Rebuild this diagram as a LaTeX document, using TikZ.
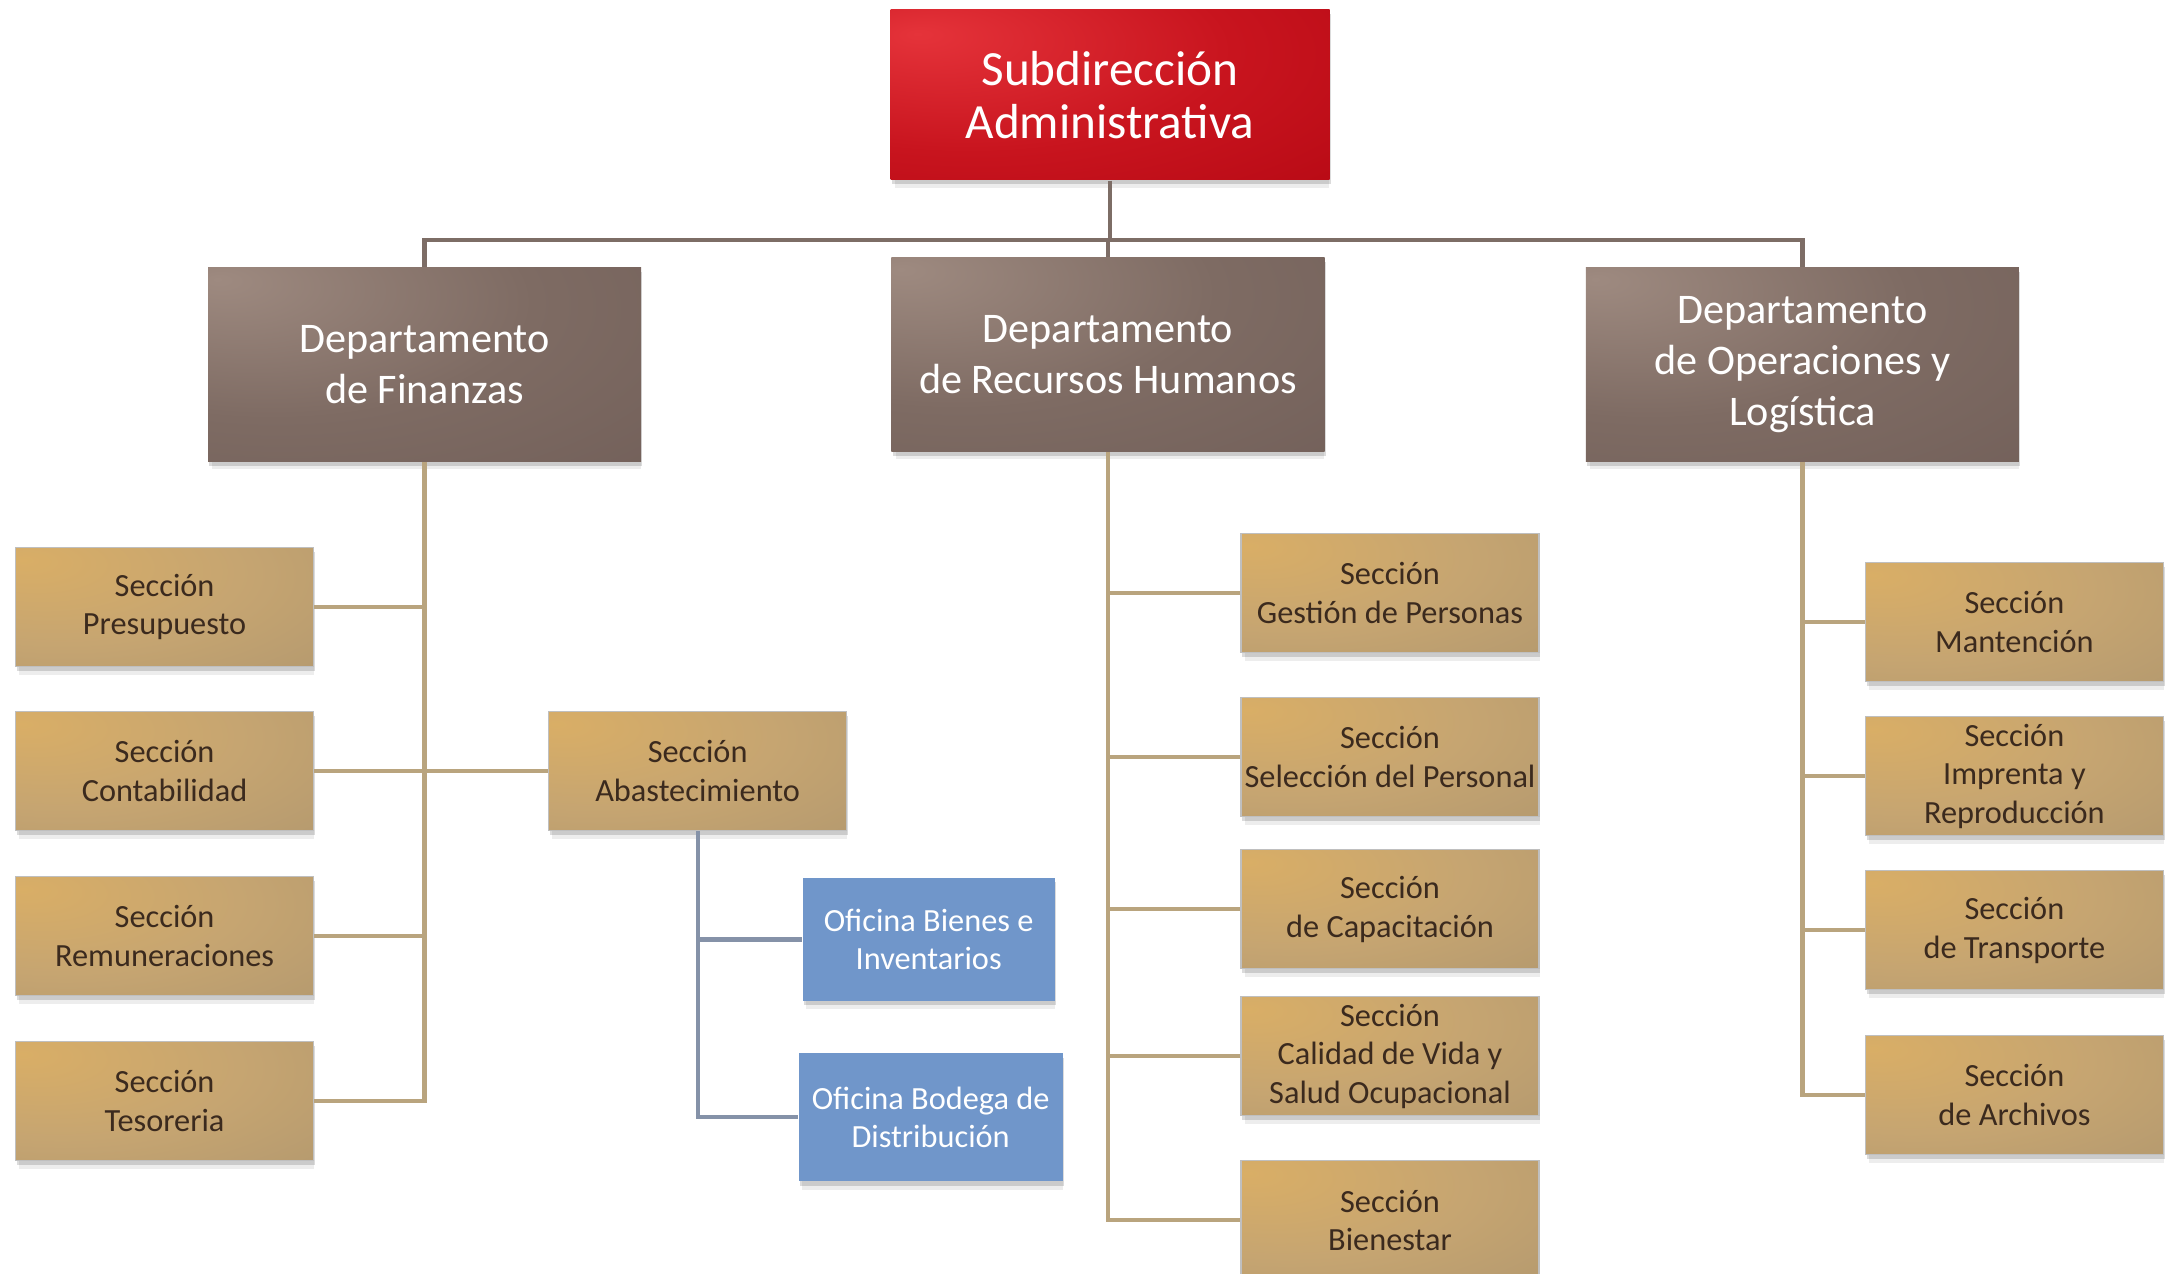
\documentclass[tikz,border=0pt]{standalone}
\usepackage{fontspec}
\setmainfont{Carlito}
\usepackage{tikz}
\usetikzlibrary{positioning,shadows}
\definecolor{rojoclaro}{HTML}{E5333A}
\definecolor{rojomedio}{HTML}{C8141E}
\definecolor{rojooscuro}{HTML}{A8000C}
\definecolor{cafeclaro}{HTML}{9E8A80}
\definecolor{cafemedio}{HTML}{7E6B63}
\definecolor{cafeoscuro}{HTML}{6A5853}
\definecolor{tanclaro}{HTML}{D9AE66}
\definecolor{tanmedio}{HTML}{C6A571}
\definecolor{tanoscuro}{HTML}{A6906D}
\definecolor{azulofi}{HTML}{7096CA}
\definecolor{textotan}{HTML}{3B2A1E}
\definecolor{lineatronco}{HTML}{7D6D66}
\definecolor{lineatan}{HTML}{B9A47E}
\definecolor{lineaazul}{HTML}{8592A8}
\pgfdeclareradialshading{brillorojo}{\pgfpoint{-22bp}{18bp}}{color(0bp)=(rojoclaro); color(30bp)=(rojomedio); color(75bp)=(rojooscuro); color(110bp)=(rojooscuro)}
\pgfdeclareradialshading{brillocafe}{\pgfpoint{-24bp}{22bp}}{color(0bp)=(cafeclaro); color(30bp)=(cafemedio); color(75bp)=(cafeoscuro); color(110bp)=(cafeoscuro)}
\pgfdeclareradialshading{brillotan}{\pgfpoint{-24bp}{20bp}}{color(0bp)=(tanclaro); color(30bp)=(tanmedio); color(75bp)=(tanoscuro); color(110bp)=(tanoscuro)}
\tikzstyle{sombra} = [general shadow={shadow xshift=0.4pt, shadow yshift=-1.2pt, fill=black, opacity=0.14}, general shadow={shadow xshift=0.6pt, shadow yshift=-2.6pt, shadow scale=0.99, fill=black, opacity=0.07}]
\tikzstyle{jefatura} = [rectangle, sombra, shading=brillorojo, text=white, align=center, minimum width=4.39cm, minimum height=1.70cm, font=\fontsize{14}{15}\selectfont]
\tikzstyle{departamento} = [rectangle, sombra, shading=brillocafe, text=white, align=center, minimum width=4.33cm, minimum height=1.94cm, font=\fontsize{12}{14.5}\selectfont]
\tikzstyle{seccion} = [rectangle, sombra, shading=brillotan, draw=black!25, line width=0.3pt, text=textotan, align=center, inner xsep=1pt, inner ysep=0.5pt, minimum width=2.98cm, minimum height=1.19cm, font=\fontsize{9.2}{11}\selectfont]
\tikzstyle{oficina} = [rectangle, sombra, fill=azulofi, text=white, align=center, minimum width=2.52cm, minimum height=1.23cm, font=\fontsize{9.2}{11}\selectfont]
\tikzstyle{tronco} = [line width=1.2pt, draw=lineatronco]
\tikzstyle{rama} = [line width=1.2pt, draw=lineatan]
\tikzstyle{ramaazul} = [line width=1.2pt, draw=lineaazul]
\begin{document}
\begin{tikzpicture}
        \useasboundingbox[fill=white] (-11.10,0.95) rectangle (10.58,-11.79);
        \node (sub) [jefatura] {Subdirección\\Administrativa};
        \node (rrhh) [departamento, below=0.76cm of sub, xshift=-0.02cm] {Departamento\\de Recursos Humanos};
        \node (fin) [departamento, left=2.49cm of rrhh, yshift=-0.1cm] {Departamento\\de Finanzas};
        \node (ops) [departamento, right=2.60cm of rrhh, yshift=-0.1cm] {Departamento\\de Operaciones y\\Logística};
        % Finanzas
        \node (pres) [seccion, below=0.85cm of fin, xshift=-2.60cm] {Sección\\Presupuesto};
        \node (cont) [seccion, below=0.44cm of pres] {Sección\\Contabilidad};
        \node (remu) [seccion, below=0.45cm of cont] {Sección\\Remuneraciones};
        \node (teso) [seccion, below=0.45cm of remu] {Sección\\Tesoreria};
        \node (abas) [seccion, right=2.34cm of cont] {Sección\\Abastecimiento};
        \node (bien) [oficina, below=0.46cm of abas, xshift=2.31cm] {Oficina Bienes e\\Inventarios};
        \node (bode) [oficina, below=0.51cm of bien, xshift=0.02cm, minimum width=2.64cm, minimum height=1.28cm] {Oficina Bodega de\\Distribución};
        % Recursos Humanos
        \node (gest) [seccion, below=0.81cm of rrhh, xshift=2.82cm] {Sección\\Gestión de Personas};
        \node (sele) [seccion, below=0.44cm of gest] {Sección\\Selección del Personal};
        \node (capa) [seccion, below=0.32cm of sele] {Sección\\de Capacitación};
        \node (cali) [seccion, below=0.27cm of capa] {Sección\\Calidad de Vida y\\Salud Ocupacional};
        \node (bien2) [seccion, below=0.44cm of cali] {Sección\\Bienestar};
        % Operaciones
        \node (mant) [seccion, below=1.00cm of ops, xshift=2.12cm] {Sección\\Mantención};
        \node (impr) [seccion, below=0.34cm of mant] {Sección\\Imprenta y\\Reproducción};
        \node (tran) [seccion, below=0.34cm of impr] {Sección\\de Transporte};
        \node (arch) [seccion, below=0.45cm of tran] {Sección\\de Archivos};
        % lineas
        \draw [tronco] (sub.south) -- ++(0,-0.59) coordinate (barra);
        \draw [tronco] (fin.north) |- (barra) -| (ops.north);
        \draw [tronco] (barra) -- (barra -| rrhh.north) -- (rrhh.north);
        \draw [rama] (fin.south) |- (teso.east);
        \draw [rama] (pres.east) -- (pres.east -| fin.south);
        \draw [rama] (cont.east) -- (abas.west);
        \draw [rama] (remu.east) -- (remu.east -| fin.south);
        \draw [ramaazul] (abas.south) |- (bode.west);
        \draw [ramaazul] (bien.west) -- (bien.west -| abas.south);
        \draw [rama] (rrhh.south) |- (bien2.west);
        \draw [rama] (gest.west) -- (gest.west -| rrhh.south);
        \draw [rama] (sele.west) -- (sele.west -| rrhh.south);
        \draw [rama] (capa.west) -- (capa.west -| rrhh.south);
        \draw [rama] (cali.west) -- (cali.west -| rrhh.south);
        \draw [rama] (ops.south) |- (arch.west);
        \draw [rama] (mant.west) -- (mant.west -| ops.south);
        \draw [rama] (impr.west) -- (impr.west -| ops.south);
        \draw [rama] (tran.west) -- (tran.west -| ops.south);
    \end{tikzpicture}
\end{document}
